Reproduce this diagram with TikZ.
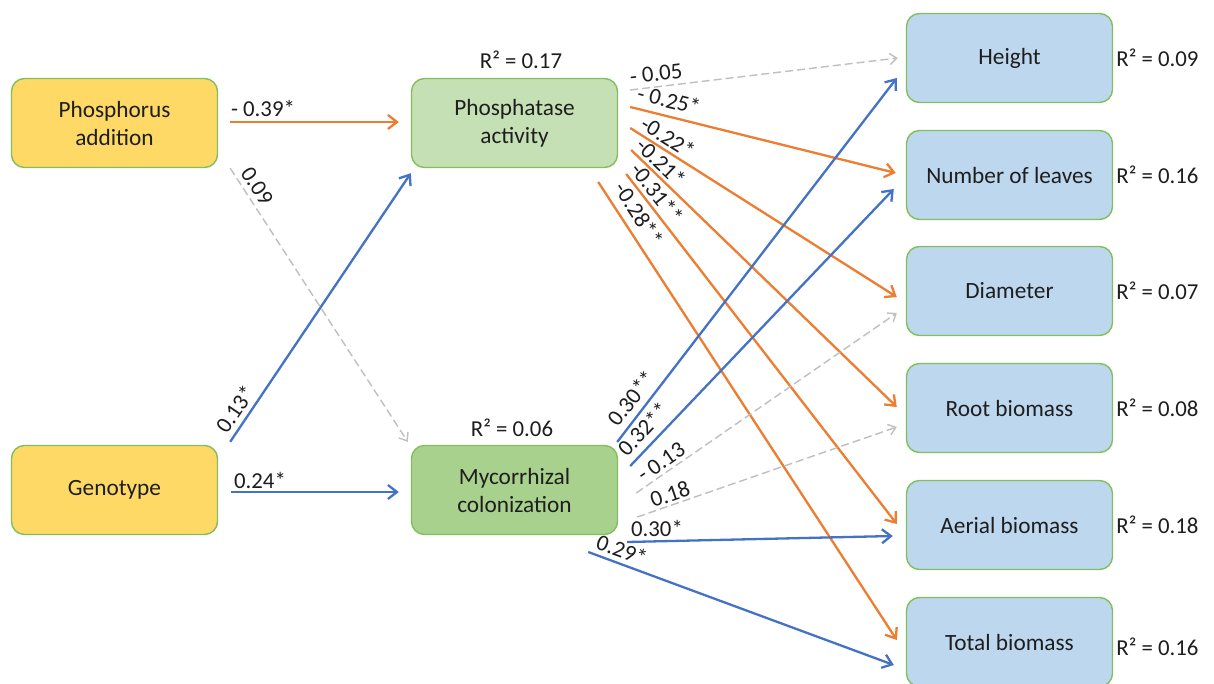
\documentclass[tikz,border=0pt]{standalone}
\usepackage{fontspec}
\setmainfont{Carlito}
\usetikzlibrary{arrows.meta,calc}
\definecolor{boxline}{HTML}{82BE5C}
\definecolor{yel}{HTML}{FFD966}
\definecolor{lgreen}{HTML}{C5E0B4}
\definecolor{mgreen}{HTML}{A9D18E}
\definecolor{lblue}{HTML}{BDD7EE}
\definecolor{orng}{HTML}{ED7D31}
\definecolor{blu}{HTML}{4472C4}
\definecolor{gry}{HTML}{BFBFBF}
\definecolor{txt}{HTML}{1E1E1E}
\begin{document}
\begin{tikzpicture}[x=1pt,y=-1pt,
  box/.style={draw=boxline,line width=1.4pt,rounded corners=13pt,minimum width=206pt,minimum height=89pt,align=center,font=\fontsize{23.3}{28}\selectfont,text=txt},
  lab/.style={inner sep=0pt,font=\fontsize{22.8}{26}\selectfont,text=txt},
  oarr/.style={draw=orng,line width=2.3pt,-{Straight Barb[length=9pt,width=14pt]}},
  barr/.style={draw=blu,line width=2.3pt,-{Straight Barb[length=9pt,width=14pt]}},
  garr/.style={draw=gry,line width=1.4pt,dash pattern=on 8pt off 4pt,-{Straight Barb[length=7pt,width=11pt]}}
]
\useasboundingbox[fill=white] (0,0) rectangle (1214,684);
% boxes
\node[box,fill=yel] (pp) at (114.5,123) {Phosphorus\\addition};
\node[box,fill=yel] (gt) at (114.5,490) {Genotype};
\node[box,fill=lgreen] (pa) at (514.5,123) {Phosphatase\\activity};
\node[box,fill=mgreen] (mc) at (514.5,490) {Mycorrhizal\\colonization};
\node[box,fill=lblue] (h) at (1009.5,58) {Height};
\node[box,fill=lblue] (nl) at (1009.5,175) {Number of leaves};
\node[box,fill=lblue] (di) at (1009.5,291) {Diameter};
\node[box,fill=lblue] (rb) at (1009.5,408) {Root biomass};
\node[box,fill=lblue] (ab) at (1009.5,525) {Aerial biomass};
\node[box,fill=lblue] (tb) at (1009.5,642) {Total biomass};
% R2 labels
\node[lab] (r1) at (521,60) {R² = 0.17};
\node[lab] (r2) at (512,428) {R² = 0.06};
\node[lab,anchor=west] (rh) at ($(h.east)+(3,0)$) {R² = 0.09};
\node[lab,anchor=west] (rnl) at ($(nl.east)+(3,0)$) {R² = 0.16};
\node[lab,anchor=west] (rdi) at ($(di.east)+(3,0)$) {R² = 0.07};
\node[lab,anchor=west] (rrb) at ($(rb.east)+(3,0)$) {R² = 0.08};
\node[lab,anchor=west] (rab) at ($(ab.east)+(3,0)$) {R² = 0.18};
\node[lab,anchor=west] (rtb) at ($(tb.east)+(3,5)$) {R² = 0.16};
% arrows from exogenous
\draw[oarr] ($(pp.east)+(12,-1)$) -- ($(pa.west)+(-12,-1)$);
\draw[garr] ($(pp.south east)+(12,0)$) -- ($(mc.north west)+(-3,-3)$);
\draw[barr] ($(gt.north east)+(12,-3)$) -- ($(pa.south west)+(0,5)$);
\draw[barr] ($(gt.east)+(13,2)$) -- ($(mc.west)+(-12,2)$);
\node[lab] (l1) at (263,108) {- 0.39*};
\node[lab,rotate=-56.8] (l2) at (257,186) {0.09};
\node[lab,rotate=56] (l3) at (235,409) {0.13*};
\node[lab] (l4) at (260,480) {0.24*};
% from phosphatase
\draw[garr] ($(pa.east)+(12,-33)$) -- ($(h.west)+(-8,0)$);
\draw[oarr] ($(pa.east)+(12,-16)$) -- ($(nl.west)+(-10,-2)$);
\draw[oarr] ($(pa.east)+(12,5)$) -- ($(di.west)+(-9,6)$);
\draw[oarr] ($(pa.east)+(13,27)$) -- ($(rb.west)+(-9,-1)$);
\draw[oarr] ($(pa.east)+(8,51)$) -- ($(ab.west)+(-9,-1)$);
\draw[oarr] ($(pa.east)+(-20,59)$) -- ($(tb.west)+(-9,-2)$);
\node[lab,rotate=7] (l5) at (656,74) {- 0.05};
\node[lab,rotate=-14] (l6) at (669,100) {- 0.25*};
\node[lab,rotate=-32] (l7) at (668,137) {-0.22*};
\node[lab,rotate=-44] (l8) at (661,162) {-0.21*};
\node[lab,rotate=-52] (l9) at (657,193) {-0.31**};
\node[lab,rotate=-57] (l10) at (639,214) {-0.28**};
% from mycorrhizal
\draw[barr] ($(mc.east)+(-1,-48)$) -- ($(h.west)+(-9,20)$);
\draw[barr] ($(mc.east)+(12,-24)$) -- ($(nl.west)+(-12,14)$);
\draw[garr] ($(mc.east)+(18,3)$) -- ($(di.west)+(-9,22)$);
\draw[garr] ($(mc.east)+(19,27)$) -- ($(rb.west)+(-9,19)$);
\draw[barr] ($(mc.east)+(9,52)$) -- ($(ab.west)+(-13,11)$);
\draw[barr] ($(mc.east)+(-30,62)$) -- ($(tb.west)+(-12,23)$);
\node[lab,rotate=52] (l11) at (631,398) {0.30**};
\node[lab,rotate=46.5] (l12) at (643,429) {0.32**};
\node[lab,rotate=34.6] (l13) at (661,462) {- 0.13};
\node[lab,rotate=19] (l14) at (670,494) {0.18};
\node[lab] (l15) at (657,528) {0.30*};
\node[lab,rotate=-20] (l16) at (622,550) {0.29*};
\end{tikzpicture}
\end{document}
